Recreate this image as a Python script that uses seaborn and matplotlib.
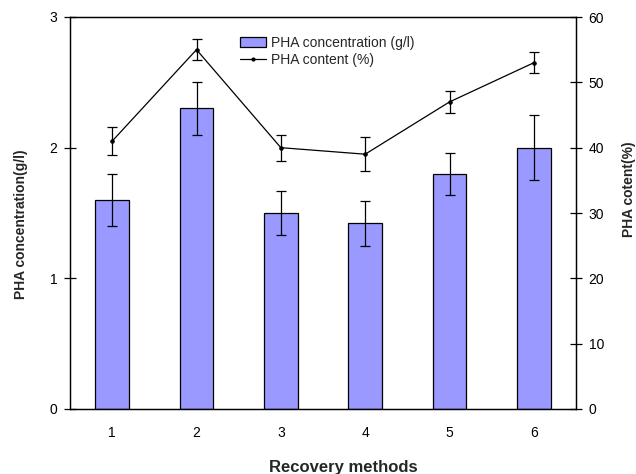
import matplotlib
matplotlib.use("Agg")
import matplotlib.pyplot as plt
import seaborn as sns
import numpy as np
import pandas as pd
from matplotlib.ticker import FixedLocator, NullFormatter, FixedFormatter
from matplotlib.lines import Line2D
from matplotlib.patches import Patch

methods = ["1", "2", "3", "4", "5", "6"]
conc = [1.6, 2.3, 1.5, 1.42, 1.8, 2.0]
conc_err = [0.2, 0.2, 0.17, 0.17, 0.16, 0.25]
content = [41, 55, 40, 39, 47, 53]
content_err = [2.1, 1.6, 2.0, 2.6, 1.7, 1.6]

sns.set_theme(style="white")
plt.rcParams['font.family'] = ['Liberation Sans', 'DejaVu Sans']

fig = plt.figure(figsize=(6.36, 4.74), dpi=100)
ax = fig.add_axes([70/636, 1-409/474, 506/636, 392/474])

df = pd.DataFrame({"method": methods, "conc": conc})
sns.barplot(data=df, x="method", y="conc", ax=ax, color="#9999FF",
            saturation=1, width=0.4, edgecolor="black", linewidth=0.9,
            errorbar=None)
pos = np.arange(len(methods))
ax.errorbar(pos, conc, yerr=conc_err, fmt="none", ecolor="black",
            elinewidth=0.9, capsize=3.5, capthick=0.9)
ax.set_xlim(-0.5, 5.5)
ax.set_ylim(0, 3)
ax.set_yticks([0, 1, 2, 3])
ax.set_yticklabels(["0", "1", "2", "3"])

ax.xaxis.set_major_locator(FixedLocator(np.arange(-0.5, 6.0, 1.0)))
ax.xaxis.set_major_formatter(NullFormatter())
ax.xaxis.set_minor_locator(FixedLocator(pos))
ax.xaxis.set_minor_formatter(FixedFormatter(methods))
ax.tick_params(axis="x", which="major", direction="inout", length=8, width=0.9, color="black")
ax.tick_params(axis="x", which="minor", length=0, labelsize=10, pad=12, colors="black")
ax.tick_params(axis="y", direction="inout", length=8, width=0.9, color="black",
               labelsize=10, pad=5, labelcolor="black")

ax.set_xlabel("Recovery methods", fontsize=12, fontweight="bold")
ax.xaxis.set_label_coords((343-70)/506, -(472-409)/392)
ax.xaxis.label.set_verticalalignment("baseline")
ax.set_ylabel("PHA concentration(g/l)", fontsize=10, fontweight="bold")
ax.yaxis.set_label_coords(-(70-28)/506, (409-224)/392)

ax2 = ax.twinx()
ldf = pd.DataFrame({"x": pos, "content": content})
sns.lineplot(data=ldf, x="x", y="content", ax=ax2, color="black", linewidth=0.9,
             marker="o", markersize=2.5, markeredgecolor="black")
ax2.errorbar(pos, content, yerr=content_err, fmt="none", ecolor="black",
             elinewidth=0.9, capsize=3.5, capthick=0.9)
ax2.set_ylim(0, 60)
ax2.set_xlim(-0.5, 5.5)
ax2.set_yticks([0, 10, 20, 30, 40, 50, 60])
ax2.set_yticklabels(["0", "10", "20", "30", "40", "50", "60"])
ax2.tick_params(axis="y", direction="inout", length=8, width=0.9, color="black",
                labelsize=10, pad=5, labelcolor="black")
ax2.set_xlabel("")
ax2.set_ylabel("PHA cotent(%)", fontsize=10, fontweight="bold")
ax2.yaxis.set_label_coords(1 + (622-576)/506, (409-189)/392)

for a in (ax, ax2):
    for s in a.spines.values():
        s.set_color("black")
        s.set_linewidth(0.9)
        s.set_visible(True)

handles = [Patch(facecolor="#9999FF", edgecolor="black", linewidth=0.9),
           Line2D([], [], color="black", linewidth=0.9, marker="o", markersize=2.0)]
ax2.legend(handles, ["PHA concentration (g/l)", "PHA content (%)"],
           loc="upper left", bbox_to_anchor=((240-70)/506, 1-(36-17)/392),
           frameon=False, fontsize=10, handlelength=1.9, handletextpad=0.3,
           labelspacing=0.2, borderpad=0, borderaxespad=0)

fig.savefig("out.png", dpi=100)
